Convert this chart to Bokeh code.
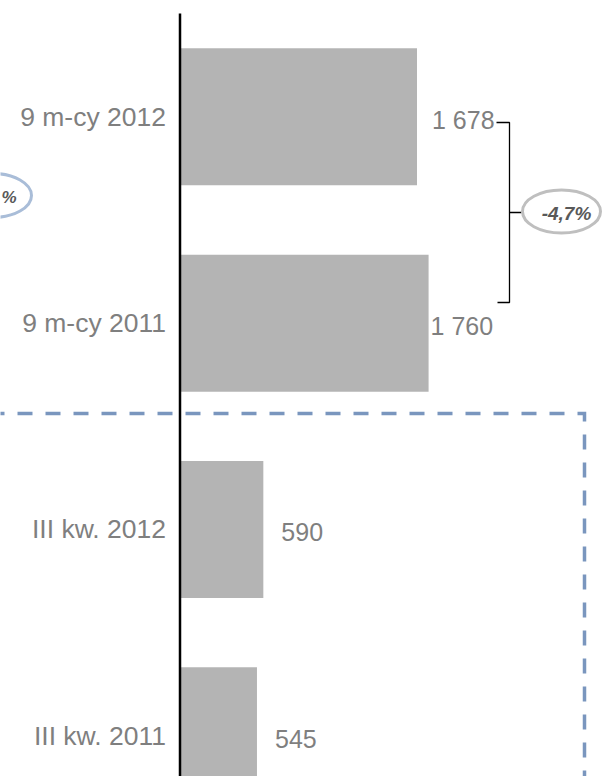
from bokeh.plotting import figure
from bokeh.models import Range1d, ColumnDataSource
from bokeh.core.properties import value
from bokeh.embed import file_html
from bokeh.resources import INLINE

# ---- data ----
categories = ["9 m-cy 2012", "9 m-cy 2011", "III kw. 2012", "III kw. 2011"]
values = [1678, 1760, 590, 545]
value_labels = ["1 678", "1 760", "590", "545"]
change_label = "-4,7%"

# ---- layout helpers (screen px -> data) ----
W, H = 602, 776
S = 0.14124          # px per value unit
AX0 = 179.5          # px of value 0
U = 206.33           # px per category step
Y0 = 116.3           # px of first category centre


def X(px):
    return (px - AX0) / S


def Y(py):
    return (py - Y0) / U


idx = list(range(len(categories)))
label_dx = [15, 2, 18, 18]

src = ColumnDataSource(dict(
    y=idx, v=values, cat=categories, vl=value_labels,
    zero=[0] * len(values), dx=label_dx,
))

p = figure(width=W, height=H, output_backend="svg", toolbar_location=None,
           x_range=Range1d(X(0), X(W)), y_range=Range1d(Y(H), Y(0)),
           min_border=0, outline_line_color=None, background_fill_color="white",
           border_fill_color="white")
p.axis.visible = False
p.grid.visible = False

FONT = value("Liberation Sans")

# dashed frame
p.line(x=[X(-11), X(584), X(584)], y=[Y(413), Y(413), Y(790)],
       line_color="#7A96BE", line_width=3.5, line_dash="15 13",
       line_join="miter")

# bars
p.hbar(y="y", left="zero", right="v", height=0.664, source=src,
       fill_color="#B4B4B4", line_color=None)

# axis line
p.segment(x0=[0], y0=[Y(13)], x1=[0], y1=[Y(790)], line_color="black",
          line_width=2.5)

# category labels
p.text(x="zero", y="y", text="cat", source=src, x_offset=-14,
       text_align="right", text_baseline="middle", text_font=FONT,
       text_font_size="26.5px", text_color="#7F7F7F")

# value labels
p.text(x="v", y="y", text="vl", source=src, x_offset="dx", y_offset=3,
       text_align="left", text_baseline="middle", text_font=FONT,
       text_font_size="25px", text_color="#7F7F7F")

# bracket
p.multi_line(xs=[[X(496), X(509), X(509), X(497)], [X(509), X(521)]],
             ys=[[Y(122), Y(122), Y(302), Y(302)], [Y(212), Y(212)]],
             line_color="black", line_width=1.3)

# change ellipse
p.ellipse(x=[X(561)], y=[Y(211)], width=78, height=43, width_units="screen",
          height_units="screen", fill_color=None, line_color="#BFBFBF",
          line_width=3)
p.text(x=[X(566)], y=[Y(213)], text=[change_label], text_align="center",
       text_baseline="middle", text_font=FONT, text_font_size="19px",
       text_font_style="bold italic", text_color="#595959")

# partially visible ellipse on the left
p.ellipse(x=[X(-8)], y=[Y(195)], width=78, height=44, width_units="screen",
          height_units="screen", fill_color=None, line_color="#A9BDD8",
          line_width=3)
p.text(x=[X(1)], y=[Y(197)], text=["%"], text_align="left",
       text_baseline="middle", text_font=FONT, text_font_size="17px",
       text_font_style="bold italic", text_color="#595959")

open("out.html", "w").write(file_html(p, INLINE))
